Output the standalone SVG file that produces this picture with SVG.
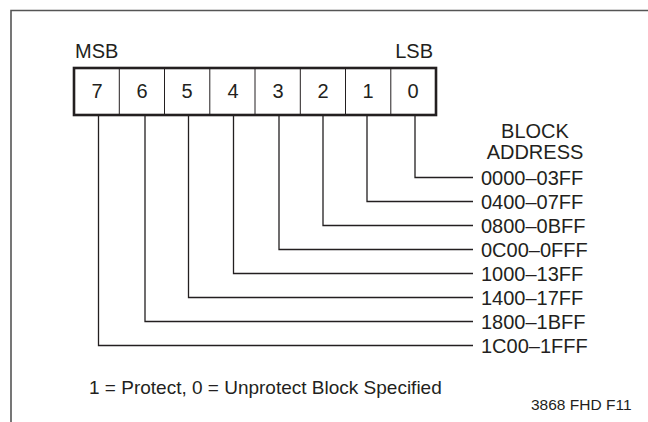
<svg xmlns="http://www.w3.org/2000/svg" width="648" height="422" viewBox="0 0 648 422">
<style>
text{font-family:"Liberation Sans",Arial,Helvetica,sans-serif;fill:#231f20}
.t20{font-size:20px}
.dig{font-size:20px;text-anchor:middle}
.addr{font-size:20px}
.frame{fill:none;stroke:#555;stroke-width:1.6}
.box{fill:#fff;stroke:#231f20;stroke-width:2.6}
.div{stroke:#231f20;stroke-width:1}
.lead{fill:none;stroke:#231f20;stroke-width:1.3}
</style>
<rect width="648" height="422" fill="#fff"/>
<path class="frame" d="M11,422 V10.5 H648"/>
<g id="labels">
<text class="t20" x="75" y="57.5">MSB</text>
<text class="t20" x="433" y="57.5" text-anchor="end">LSB</text>
</g>
<g id="register">
<rect class="box" x="74" y="68" width="362" height="47"/>
<path class="div" d="M119.3,68V115M164.5,68V115M209.8,68V115M255,68V115M300.3,68V115M345.5,68V115M390.8,68V115"/>
<text class="dig" x="97" y="98">7</text>
<text class="dig" x="142" y="98">6</text>
<text class="dig" x="187" y="98">5</text>
<text class="dig" x="233" y="98">4</text>
<text class="dig" x="278" y="98">3</text>
<text class="dig" x="323" y="98">2</text>
<text class="dig" x="368" y="98">1</text>
<text class="dig" x="413" y="98">0</text>
</g>
<g id="connectors">
<path class="lead" d="M415,115V177.5H473"/>
<path class="lead" d="M367,115V201.5H473"/>
<path class="lead" d="M323,115V225.5H473"/>
<path class="lead" d="M279,115V249.5H473"/>
<path class="lead" d="M233.5,115V273.5H473"/>
<path class="lead" d="M188.5,115V297.5H473"/>
<path class="lead" d="M145,115V321.5H473"/>
<path class="lead" d="M98.5,115V345.5H473"/>
</g>
<g id="block-address">
<text class="t20" x="535" y="137.5" text-anchor="middle">BLOCK</text>
<text class="t20" x="535" y="158.5" text-anchor="middle">ADDRESS</text>
<text class="addr" x="481" y="185">0000–03FF</text>
<text class="addr" x="481" y="209">0400–07FF</text>
<text class="addr" x="481" y="233">0800–0BFF</text>
<text class="addr" x="481" y="257">0C00–0FFF</text>
<text class="addr" x="481" y="281">1000–13FF</text>
<text class="addr" x="481" y="305">1400–17FF</text>
<text class="addr" x="481" y="329">1800–1BFF</text>
<text class="addr" x="481" y="353">1C00–1FFF</text>
</g>
<g id="notes">
<text x="89" y="394" style="font-size:19px">1 = Protect, 0 = Unprotect Block Specified</text>
<text x="531" y="410" style="font-size:15.5px">3868 FHD F11</text>
</g>
</svg>
